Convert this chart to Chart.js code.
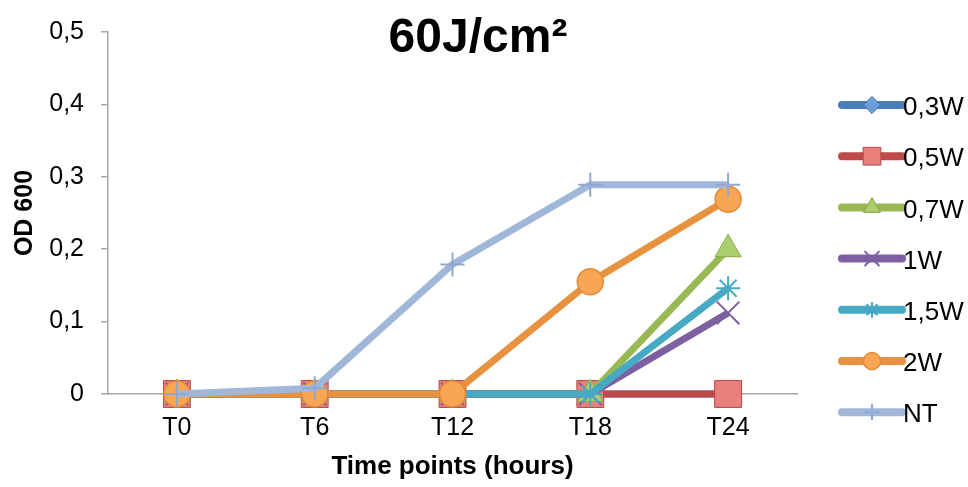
<!DOCTYPE html>
<html>
<head>
<meta charset="utf-8">
<script src="https://cdn.jsdelivr.net/npm/chart.js@4.4.1/dist/chart.umd.min.js"></script>
<style>
  html, body { margin: 0; padding: 0; background: #ffffff; }
  #wrap { width: 968px; height: 487px; }
</style>
</head>
<body>
<div id="wrap"><canvas id="js-line-chart" width="968" height="487"></canvas></div>
<script>
// Chart data
const timePoints = ['T0', 'T6', 'T12', 'T18', 'T24'];
const yTickLabels = ['0', '0,1', '0,2', '0,3', '0,4', '0,5'];
const seriesNames = ['0,3W', '0,5W', '0,7W', '1W', '1,5W', '2W', 'NT'];
const w03 = [0, 0, 0, 0, 0];
const w05 = [0, 0, 0, 0, 0];
const w07 = [0, 0, 0, 0, 0.2];
const w1 = [0, 0, 0, 0, 0.112];
const w15 = [0, 0, 0, 0, 0.146];
const w2 = [0, 0, 0, 0.155, 0.269];
const nt = [0, 0.008, 0.179, 0.289, 0.289];

const FONT = '"Liberation Sans", Arial, sans-serif';

// Series styles
const styles = [
  { line: '#4a7ebb', fill: '#6f9ddb', edge: '#3d6ea8', point: 'rectRot', r: 13, bw: 1 },
  { line: '#be4b48', fill: '#e8807d', edge: '#b84744', point: 'rect', r: 19, bw: 1 },
  { line: '#98b954', fill: '#abcd6d', edge: '#8aab48', point: 'triangle', r: 15, bw: 1 },
  { line: '#7d60a0', fill: '#7d60a0', edge: '#7d60a0', point: 'crossRot', r: 16, bw: 2 },
  { line: '#46aac5', fill: '#46aac5', edge: '#46aac5', point: 'star', r: 12, bw: 2 },
  { line: '#e8913f', fill: '#f9a654', edge: '#e08a3a', point: 'circle', r: 13, bw: 1.5 },
  { line: '#a1b7d9', fill: '#a1b7d9', edge: '#8fa8cf', point: 'cross', r: 12, bw: 2 },
];

const seriesData = [w03, w05, w07, w1, w15, w2, nt];

const datasets = seriesData.map(function (values, i) {
  const s = styles[i];
  return {
    label: seriesNames[i],
    data: values,
    borderColor: s.line,
    borderWidth: 7,
    backgroundColor: s.fill,
    pointStyle: s.point,
    pointRadius: s.r,
    pointHoverRadius: s.r,
    pointBackgroundColor: s.fill,
    pointBorderColor: s.edge,
    pointBorderWidth: s.bw,
    tension: 0,
    clip: false,
    // later series sit on top, as in the original
    order: seriesData.length - i,
  };
});

// Title and legend drawn by hand on the canvas
const decorPlugin = {
  id: 'decor',
  afterDraw: function (chart) {
    const ctx = chart.ctx;
    ctx.save();
    ctx.fillStyle = '#000000';
    ctx.font = 'bold 48px ' + FONT;
    ctx.textAlign = 'center';
    ctx.textBaseline = 'alphabetic';
    ctx.fillText('60J/cm\u00B2', 478, 52);

    const x0 = 842;
    const x1 = 902;
    chart.data.datasets.forEach(function (ds, i) {
      const y = 105 + i * 51.2;
      ctx.beginPath();
      ctx.lineCap = 'round';
      ctx.lineWidth = 8;
      ctx.strokeStyle = ds.borderColor;
      ctx.moveTo(x0, y);
      ctx.lineTo(x1, y);
      ctx.stroke();

      ctx.lineCap = 'butt';
      ctx.fillStyle = ds.pointBackgroundColor;
      ctx.strokeStyle = ds.pointBorderColor;
      ctx.lineWidth = ds.pointBorderWidth;
      Chart.helpers.drawPoint(ctx, {
        pointStyle: ds.pointStyle,
        radius: ds.pointRadius * 0.66,
        rotation: 0,
        borderWidth: ds.pointBorderWidth,
      }, (x0 + x1) / 2, y);

      ctx.fillStyle = '#000000';
      ctx.font = '26px ' + FONT;
      ctx.textAlign = 'left';
      ctx.textBaseline = 'middle';
      ctx.fillText(ds.label, 903, y + 3);
    });
    ctx.restore();
  },
};

const lineChartContext = document.getElementById('js-line-chart').getContext('2d');

const newLineChart = new Chart(lineChartContext, {
  type: 'line',
  data: {
    labels: timePoints,
    datasets: datasets,
  },
  options: {
    responsive: false,
    animation: false,
    events: [],
    layout: {
      padding: { top: 30, right: 171, bottom: 0, left: 0 },
    },
    plugins: {
      legend: { display: false },
      title: { display: false },
      tooltip: { enabled: false },
    },
    scales: {
      x: {
        offset: true,
        grid: { display: false, drawTicks: false },
        border: { display: true, color: '#a6a6a6', width: 1.5 },
        ticks: {
          color: '#000000',
          padding: 19,
          font: { family: FONT, size: 25 },
        },
        title: {
          display: true,
          text: 'Time points (hours)',
          color: '#000000',
          padding: { top: 0, bottom: 5 },
          font: { family: FONT, size: 26, weight: 'bold' },
        },
        afterFit: function (scale) {
          scale.height = 93;
        },
      },
      y: {
        min: 0,
        max: 0.5,
        grid: {
          display: true,
          drawOnChartArea: false,
          drawTicks: true,
          tickLength: 7,
          color: '#a6a6a6',
          lineWidth: 1.5,
        },
        border: { display: true, color: '#a6a6a6', width: 1.5 },
        ticks: {
          stepSize: 0.1,
          color: '#000000',
          padding: 17,
          font: { family: FONT, size: 25 },
          callback: function (value, index) {
            return yTickLabels[index];
          },
        },
        title: {
          display: true,
          text: 'OD 600',
          color: '#000000',
          padding: { top: 10, bottom: 0 },
          font: { family: FONT, size: 25, weight: 'bold' },
        },
        afterFit: function (scale) {
          scale.width = 108;
        },
      },
    },
  },
  plugins: [decorPlugin],
});
</script>
</body>
</html>
